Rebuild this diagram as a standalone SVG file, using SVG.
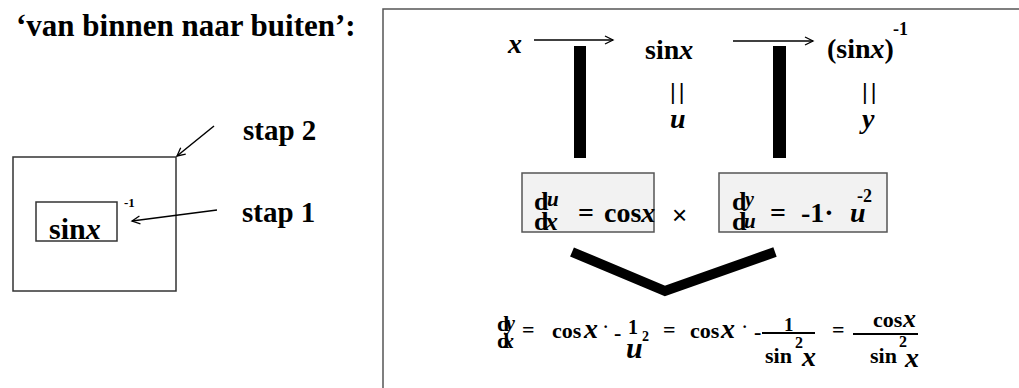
<svg xmlns="http://www.w3.org/2000/svg" width="1019" height="388" viewBox="0 0 1019 388">
<style>
.t{font-family:'Liberation Serif','DejaVu Serif',serif;font-weight:bold;fill:#000}
.i{font-style:italic}
.s{font-family:'Liberation Sans',Arial,sans-serif;font-weight:normal;fill:#000}
.box{fill:none;stroke:#333;stroke-width:1.5}
.gbox{fill:#f2f2f2;stroke:#555;stroke-width:1.5}
.arr{stroke:#000;stroke-width:1.5;fill:none}
.bar{stroke:#000;stroke-width:2}
</style>
<defs>
<marker id="ah" markerWidth="12" markerHeight="10" refX="9" refY="5" orient="auto" markerUnits="userSpaceOnUse">
<path d="M1,1 L9,5 L1,9" fill="none" stroke="#000" stroke-width="1.3"/>
</marker>
</defs>
<rect width="1019" height="388" fill="#fff"/>

<g id="title"><text class="t" x="16" y="36" font-size="31">‘van binnen naar buiten’:</text></g>

<g id="outer-box"><rect class="box" x="13" y="157" width="163" height="134"/></g>
<g id="inner-box">
<rect class="box" x="36" y="202" width="81" height="39"/>
<text class="t" x="49" y="239" font-size="30">sin<tspan class="i">x</tspan></text>
<text class="t" x="124" y="207" font-size="13">-1</text>
</g>
<g id="stap2"><text class="t" x="243" y="140" font-size="29">stap 2</text></g>
<g id="stap1"><text class="t" x="242" y="222" font-size="29">stap 1</text></g>

<g id="frame"><path d="M383,388 V9 H1019" fill="none" stroke="#555" stroke-width="1.5"/></g>

<g id="node-x"><text class="t i" x="508" y="53" font-size="28">x</text></g>
<g id="node-sinx">
<text class="t" x="645" y="59" font-size="28">sin<tspan class="i">x</tspan></text>
<text class="s" x="670" y="99" font-size="22" letter-spacing="3">||</text>
<text class="t i" x="670" y="128" font-size="28">u</text>
</g>
<g id="node-sinx-inv">
<text class="t" x="827" y="58" font-size="28">(sin<tspan class="i">x</tspan>)</text>
<text class="t" x="893" y="35" font-size="18">-1</text>
<text class="s" x="862" y="99" font-size="22" letter-spacing="3">||</text>
<text class="t i" x="862" y="128" font-size="28">y</text>
</g>

<g id="box-du">
<rect class="gbox" x="522" y="173" width="132" height="59"/>
<text class="t" x="534" y="210" font-size="26">d</text>
<text class="t i" x="547" y="206" font-size="21">u</text>
<text class="t" x="534" y="230" font-size="26">d</text>
<text class="t i" x="545" y="230" font-size="26">x</text>
<text class="t" x="578" y="222" font-size="28">=</text>
<text class="t" x="604" y="222" font-size="28">cos<tspan class="i">x</tspan></text>
</g>
<g id="times"><text class="s" x="672" y="224" font-size="26">×</text></g>
<g id="box-dy">
<rect class="gbox" x="719" y="173" width="168" height="59"/>
<text class="t" x="732" y="210" font-size="26">d</text>
<text class="t i" x="745" y="206" font-size="20">y</text>
<text class="t" x="732" y="230" font-size="26">d</text>
<text class="t i" x="744" y="228" font-size="21">u</text>
<text class="t" x="770" y="222" font-size="28">=</text>
<text class="t" x="801" y="222" font-size="28">-1·</text>
<text class="t i" x="850" y="222" font-size="28">u</text>
<text class="t" x="857" y="202" font-size="18">-2</text>
</g>

<g id="connectors">
<line class="arr" x1="534" y1="40" x2="613" y2="40" marker-end="url(#ah)"/>
<line class="arr" x1="733" y1="41" x2="813" y2="41" marker-end="url(#ah)"/>
<line class="arr" x1="217" y1="210" x2="132" y2="221" marker-end="url(#ah)"/>
<line class="arr" x1="214" y1="126" x2="177" y2="156" marker-end="url(#ah)"/>
<rect x="574" y="46" width="12" height="112" fill="#000"/>
<rect x="773" y="46" width="13" height="112" fill="#000"/>
<polyline points="572,252 665,291 775,252" fill="none" stroke="#000" stroke-width="10" stroke-linejoin="miter"/>
</g>

<g id="result">
<text class="t" x="497" y="331" font-size="22">d</text>
<text class="t i" x="506" y="330" font-size="20">y</text>
<text class="t" x="497" y="348" font-size="22">d</text>
<text class="t i" x="503" y="348" font-size="22">x</text>
<text class="t" x="522" y="337" font-size="22">=</text>
<text class="t" x="552" y="338" font-size="22">cos</text>
<text class="t i" x="584" y="338" font-size="28">x</text>
<text class="t" x="603" y="332" font-size="16">·</text>
<text class="t" x="614" y="340" font-size="22">-</text>
<text class="t" x="628" y="334" font-size="20">1</text>
<text class="t i" x="626" y="358" font-size="30">u</text>
<text class="t" x="642" y="341" font-size="14">2</text>
<text class="t" x="663" y="337" font-size="22">=</text>
<text class="t" x="690" y="338" font-size="22">cos</text>
<text class="t i" x="721" y="338" font-size="28">x</text>
<text class="t" x="742" y="332" font-size="16">·</text>
<text class="t" x="754" y="339" font-size="22">-</text>
<line class="bar" x1="762" y1="333" x2="815" y2="333"/>
<text class="t" x="784" y="331" font-size="19">1</text>
<text class="t" x="795" y="348" font-size="16">2</text>
<text class="t" x="765" y="363" font-size="22">sin</text>
<text class="t i" x="802" y="366" font-size="28">x</text>
<text class="t" x="832" y="337" font-size="22">=</text>
<line class="bar" x1="853" y1="334" x2="918" y2="334"/>
<text class="t" x="873" y="327" font-size="22">cos</text>
<text class="t i" x="903" y="327" font-size="26">x</text>
<text class="t" x="899" y="347" font-size="16">2</text>
<text class="t" x="870" y="363" font-size="22">sin</text>
<text class="t i" x="905" y="367" font-size="28">x</text>
</g>
</svg>
